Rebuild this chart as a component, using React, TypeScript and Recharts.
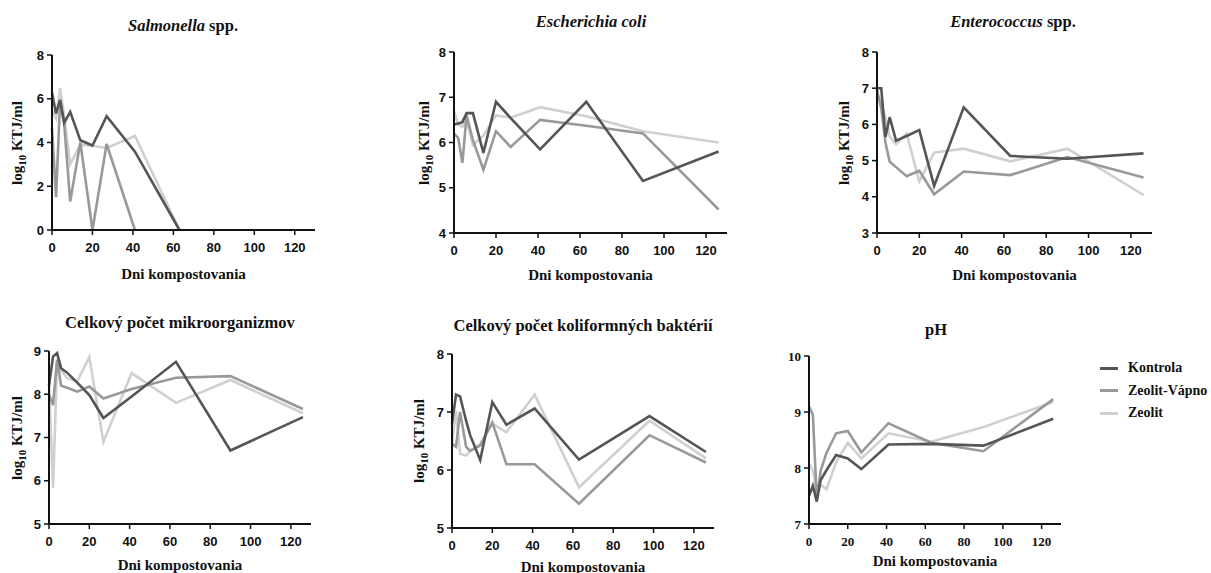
import React from 'react';
import { LineChart, Line, XAxis, YAxis } from 'recharts';

// sampling days (panel 5 has its late sample a bit later)
const days = [0, 2, 4, 6, 9, 14, 20, 27, 41, 63, 90, 126];
const daysSalmonella = [0, 2, 4, 6, 9, 14, 20, 27, 41, 63];
const daysKoli = [0, 2, 4, 7, 9, 14, 20, 27, 41, 63, 98, 126];
const xTicks = [0, 20, 40, 60, 80, 100, 120];

const salmKontrola = [6.28, 5.33, 5.95, 4.9, 5.4, 4.1, 3.86, 5.2, 3.58, 0];
const salmZeolitVapno = [4.65, 1.5, 5.9, 4.9, 1.3, 4.0, 0, 3.93, 0, null];
const salmZeolit = [5.5, 5.1, 6.48, 5.2, 3.0, 3.9, 3.85, 3.75, 4.3, 0];

const coliKontrola = [6.4, 6.42, 6.45, 6.65, 6.65, 5.77, 6.9, 6.54, 5.85, 6.9, 5.15, 5.8];
const coliZeolitVapno = [6.2, 6.1, 5.55, 6.6, 6.05, 5.4, 6.25, 5.9, 6.5, 6.37, 6.2, 4.52];
const coliZeolit = [6.7, 6.4, 6.35, 6.5, 5.95, 6.15, 6.6, 6.55, 6.78, 6.58, 6.25, 6.0];

const enteroKontrola = [7.0, 7.0, 5.65, 6.2, 5.55, 5.68, 5.84, 4.3, 6.47, 5.13, 5.05, 5.2];
const enteroZeolitVapno = [6.95, 6.45, 5.5, 4.97, 4.82, 4.57, 4.72, 4.07, 4.7, 4.6, 5.1, 4.53];
const enteroZeolit = [6.8, 6.55, 6.2, 5.66, 5.45, 5.75, 4.42, 5.22, 5.33, 4.98, 5.33, 4.05];

const mikroKontrola = [8.2, 8.87, 8.95, 8.6, 8.5, 8.27, 7.98, 7.45, 7.95, 8.75, 6.7, 7.47];
const mikroZeolitVapno = [8.0, 7.75, 8.8, 8.2, 8.15, 8.06, 8.18, 7.9, 8.12, 8.38, 8.42, 7.66];
const mikroZeolit = [8.3, 5.83, 8.7, 8.55, 8.37, 8.3, 8.86, 6.9, 8.49, 7.8, 8.33, 7.56];

const koliKontrola = [6.8, 7.3, 7.27, 6.85, 6.6, 6.17, 7.17, 6.78, 7.06, 6.18, 6.93, 6.31];
const koliZeolitVapno = [6.45, 6.4, 7.0, 6.4, 6.33, 6.42, 6.82, 6.1, 6.1, 5.42, 6.6, 6.13];
const koliZeolit = [6.45, 7.02, 6.28, 6.25, 6.33, 6.45, 6.8, 6.65, 7.3, 5.7, 6.85, 6.2];

const phKontrola = [7.5, 7.68, 7.4, 7.78, 7.96, 8.23, 8.17, 7.98, 8.42, 8.43, 8.4, 8.88];
const phZeolitVapno = [9.1, 8.95, 7.45, 7.95, 8.27, 8.62, 8.66, 8.28, 8.8, 8.45, 8.3, 9.23];
const phZeolit = [8.08, 7.95, 7.6, 7.7, 7.62, 8.1, 8.45, 8.17, 8.62, 8.47, 8.73, 9.18];

const seriesNames = ['Kontrola', 'Zeolit-Vápno', 'Zeolit'];
const colors = ['#555555', '#999999', '#d0d0d0'];

const SERIF = '"Liberation Serif", "Times New Roman", serif';
const SANS = '"Liberation Sans", Arial, sans-serif';

type Row = { day: number; k: number | null; zv: number | null; z: number | null };

function rows(d: number[], k: (number | null)[], zv: (number | null)[], z: (number | null)[]): Row[] {
  return d.map((day, i) => ({ day, k: k[i], zv: zv[i], z: z[i] }));
}

interface PanelProps {
  data: Row[];
  x0: number;
  x130: number;
  yTop: number;
  yBot: number;
  yDomain: [number, number];
  yTicks: number[];
  title: React.ReactNode;
  titleX: number;
  titleY: number;
  xLabelY: number;
  yLabelX?: number;
  serifTicks?: boolean;
}

function Panel(p: PanelProps) {
  const yAxisW = 40;
  const mTop = 10;
  const mRight = 6;
  const xAxisH = 30;
  const plotW = p.x130 - p.x0;
  const plotH = p.yBot - p.yTop;
  const tickStyle = p.serifTicks
    ? { fontSize: 13, fontFamily: SERIF, fontWeight: 700, fill: '#111' }
    : { fontSize: 13, fontFamily: SANS, fontWeight: 700, fill: '#111' };
  const axisLine = { stroke: '#111', strokeWidth: 2 };
  const tickLine = { stroke: '#111', strokeWidth: 1.5 };

  return (
    <>
      <div
        style={{
          position: 'absolute',
          left: p.titleX,
          top: p.titleY,
          transform: 'translate(-50%, -50%)',
          whiteSpace: 'nowrap',
          fontFamily: SERIF,
          fontWeight: 700,
          fontSize: 16.5,
          color: '#111',
        }}
      >
        {p.title}
      </div>
      <div style={{ position: 'absolute', left: p.x0 - yAxisW, top: p.yTop - mTop }}>
        <LineChart
          width={yAxisW + plotW + mRight}
          height={mTop + plotH + xAxisH}
          data={p.data}
          margin={{ top: mTop, right: mRight, left: 0, bottom: 0 }}
        >
          <XAxis
            dataKey="day"
            type="number"
            domain={[0, 130]}
            ticks={xTicks}
            height={xAxisH}
            tickSize={5}
            tickMargin={8}
            axisLine={axisLine}
            tickLine={tickLine}
            tick={tickStyle}
            interval={0}
          />
          <YAxis
            type="number"
            domain={p.yDomain}
            ticks={p.yTicks}
            width={yAxisW}
            tickSize={5}
            tickMargin={3}
            axisLine={axisLine}
            tickLine={tickLine}
            tick={tickStyle}
            interval={0}
          />
          <Line dataKey="z" name={seriesNames[2]} stroke={colors[2]} strokeWidth={2.6} dot={false} connectNulls isAnimationActive={false} />
          <Line dataKey="zv" name={seriesNames[1]} stroke={colors[1]} strokeWidth={2.6} dot={false} connectNulls isAnimationActive={false} />
          <Line dataKey="k" name={seriesNames[0]} stroke={colors[0]} strokeWidth={2.6} dot={false} connectNulls isAnimationActive={false} />
        </LineChart>
      </div>
      <div
        style={{
          position: 'absolute',
          left: (p.x0 + p.x130) / 2,
          top: p.xLabelY,
          transform: 'translate(-50%, -50%)',
          whiteSpace: 'nowrap',
          fontFamily: SERIF,
          fontWeight: 700,
          fontSize: 15,
          color: '#111',
        }}
      >
        Dni kompostovania
      </div>
      {p.yLabelX !== undefined && (
        <div
          style={{
            position: 'absolute',
            left: p.yLabelX,
            top: (p.yTop + p.yBot) / 2,
            transform: 'translate(-50%, -50%) rotate(-90deg)',
            whiteSpace: 'nowrap',
            fontFamily: SERIF,
            fontWeight: 700,
            fontSize: 15,
            color: '#111',
          }}
        >
          log<sub style={{ fontSize: 11 }}>10</sub> KTJ/ml
        </div>
      )}
    </>
  );
}

export default function App() {
  return (
    <div style={{ position: 'absolute', left: 0, top: 0, width: 1211, height: 573, background: '#fff', overflow: 'hidden' }}>
      <Panel
        data={rows(daysSalmonella, salmKontrola, salmZeolitVapno, salmZeolit)}
        x0={52} x130={315} yTop={55} yBot={230}
        yDomain={[0, 8]} yTicks={[0, 2, 4, 6, 8]}
        title={<><i>Salmonella</i> spp.</>} titleX={183} titleY={26}
        xLabelY={274} yLabelX={18}
      />
      <Panel
        data={rows(days, coliKontrola, coliZeolitVapno, coliZeolit)}
        x0={454} x130={727} yTop={52} yBot={233}
        yDomain={[4, 8]} yTicks={[4, 5, 6, 7, 8]}
        title={<i>Escherichia coli</i>} titleX={591} titleY={22}
        xLabelY={275} yLabelX={425}
      />
      <Panel
        data={rows(days, enteroKontrola, enteroZeolitVapno, enteroZeolit)}
        x0={877} x130={1152} yTop={52} yBot={233}
        yDomain={[3, 8]} yTicks={[3, 4, 5, 6, 7, 8]}
        title={<><i>Enterococcus</i> spp.</>} titleX={1013} titleY={22}
        xLabelY={275} yLabelX={845}
      />
      <Panel
        data={rows(days, mikroKontrola, mikroZeolitVapno, mikroZeolit)}
        x0={49} x130={311} yTop={351} yBot={524}
        yDomain={[5, 9]} yTicks={[5, 6, 7, 8, 9]}
        title="Celkový počet mikroorganizmov" titleX={180} titleY={323}
        xLabelY={565} yLabelX={18}
      />
      <Panel
        data={rows(daysKoli, koliKontrola, koliZeolitVapno, koliZeolit)}
        x0={452} x130={714} yTop={354} yBot={528}
        yDomain={[5, 8]} yTicks={[5, 6, 7, 8]}
        title="Celkový počet koliformných baktérií" titleX={583} titleY={326}
        xLabelY={567} yLabelX={420}
      />
      <Panel
        data={rows(days, phKontrola, phZeolitVapno, phZeolit)}
        x0={809} x130={1061} yTop={356} yBot={524}
        yDomain={[7, 10]} yTicks={[7, 8, 9, 10]}
        title="pH" titleX={936} titleY={330}
        xLabelY={561} serifTicks
      />
      <div style={{ position: 'absolute', left: 1100, top: 357 }}>
        {seriesNames.map((n, i) => (
          <div key={n} style={{ display: 'flex', alignItems: 'center', height: 22.5 }}>
            <span style={{ display: 'inline-block', width: 18, height: 3, background: colors[i], marginRight: 10 }} />
            <span style={{ fontFamily: SERIF, fontWeight: 700, fontSize: 14, color: '#111' }}>{n}</span>
          </div>
        ))}
      </div>
    </div>
  );
}
